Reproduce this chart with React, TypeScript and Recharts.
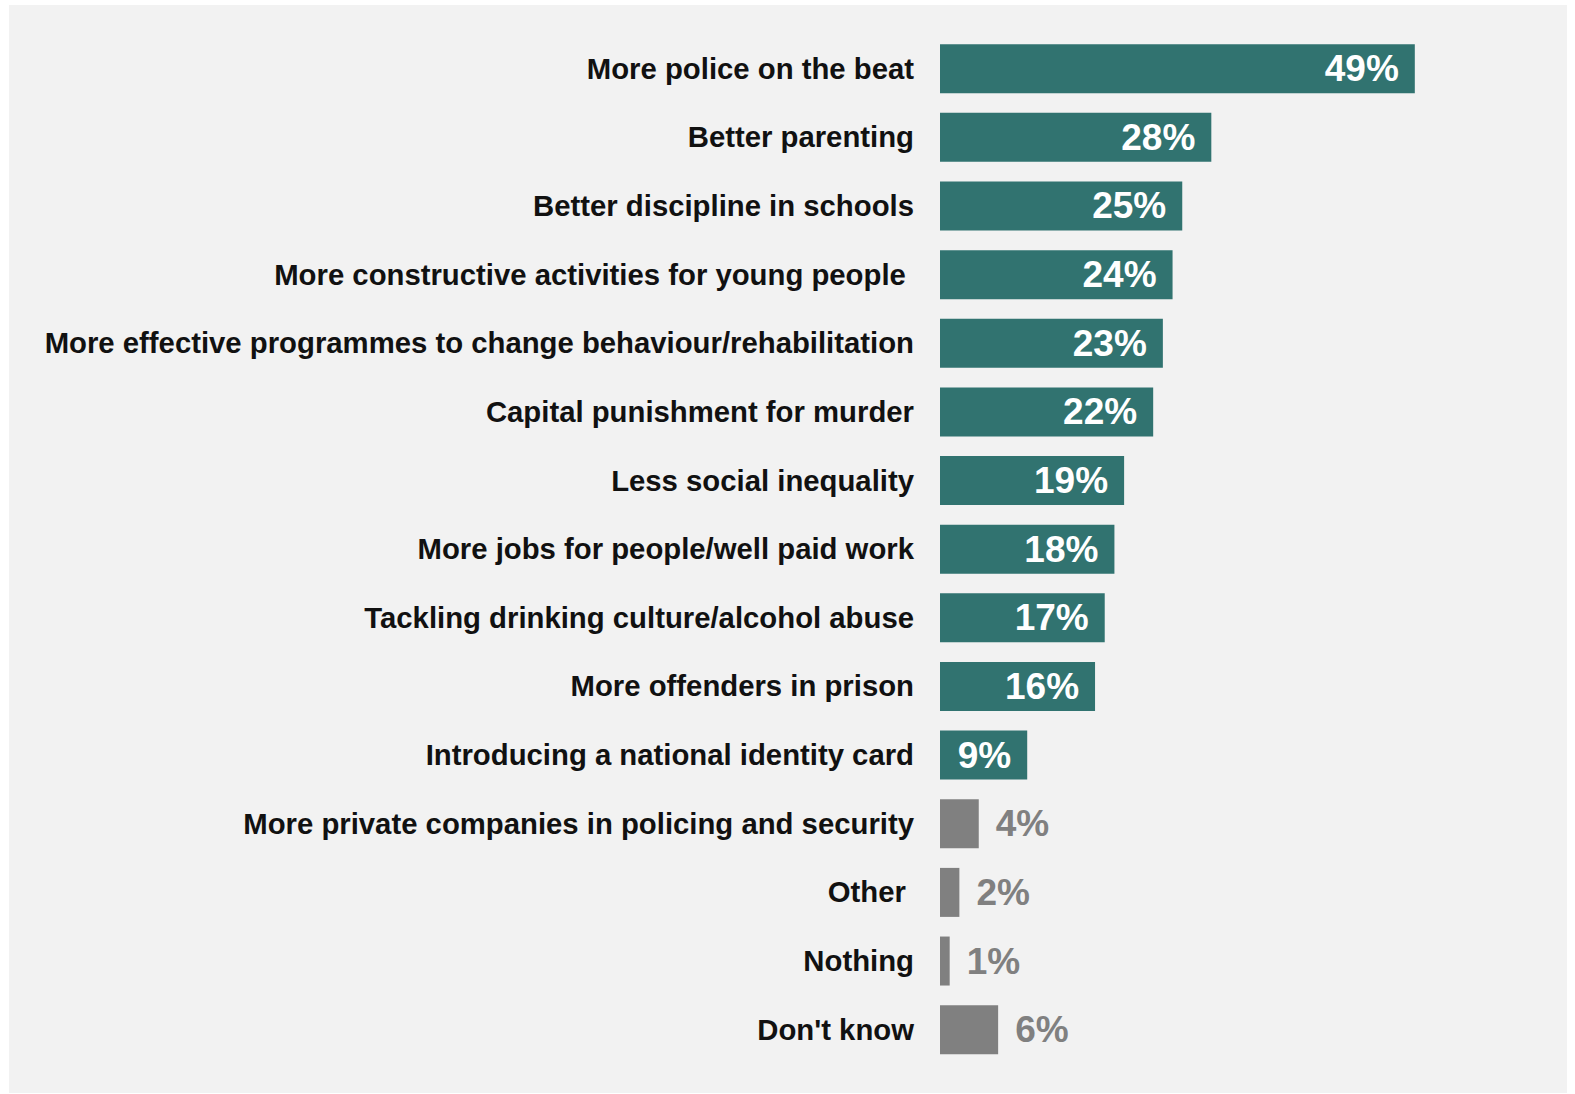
import { BarChart, Bar, XAxis, YAxis, Cell, LabelList } from 'recharts';

const categories = [
  'More police on the beat',
  'Better parenting',
  'Better discipline in schools',
  'More constructive activities for young people ',
  'More effective programmes to change behaviour/rehabilitation',
  'Capital punishment for murder',
  'Less social inequality',
  'More jobs for people/well paid work',
  'Tackling drinking culture/alcohol abuse',
  'More offenders in prison',
  'Introducing a national identity card',
  'More private companies in policing and security',
  'Other ',
  'Nothing',
  "Don't know",
];

const shares = [49, 28, 25, 24, 23, 22, 19, 18, 17, 16, 9, 4, 2, 1, 6];

// answers shown in grey rather than teal
const greyAnswers = ['More private companies in policing and security', 'Other ', 'Nothing', "Don't know"];

const TEAL = '#317370';
const GREY = '#808080';
const FONT = '"Liberation Sans", Arial, sans-serif';

const data = categories.map((name, i) => ({ name, value: shares[i] }));

function CategoryTick(props: any) {
  const { x, y, payload } = props;
  return (
    <text
      x={x}
      y={y - 0.5}
      textAnchor="end"
      dominantBaseline="central"
      fontFamily={FONT}
      fontWeight="bold"
      fontSize={29.3}
      fill="#111"
      style={{ whiteSpace: 'pre' }}
    >
      {payload.value}
    </text>
  );
}

function ValueLabel(props: any) {
  const { x, y, width, height, value, index } = props;
  const grey = greyAnswers.includes(categories[index]);
  const cy = y + height / 2;
  if (grey) {
    return (
      <text x={x + width + 17} y={cy} textAnchor="start" dominantBaseline="central"
        fontFamily={FONT} fontWeight="bold" fontSize={37} fill={GREY}>
        {value}%
      </text>
    );
  }
  return (
    <text x={x + width - 16} y={cy} textAnchor="end" dominantBaseline="central"
      fontFamily={FONT} fontWeight="bold" fontSize={37} fill="#fff">
      {value}%
    </text>
  );
}

export default function App() {
  return (
    <div style={{ position: 'absolute', left: 9, top: 5, width: 1558, height: 1088, background: '#f2f2f2' }}>
      <BarChart
        width={1558}
        height={1088}
        data={data}
        layout="vertical"
        margin={{ top: 29.4, right: 45.6, bottom: 29, left: 0 }}
        barCategoryGap="14.3%"
      >
        <XAxis type="number" domain={[0, 60]} hide />
        <YAxis
          type="category"
          dataKey="name"
          width={931}
          axisLine={false}
          tickLine={false}
          tickSize={0}
          tickMargin={26}
          interval={0}
          tick={<CategoryTick />}
        />
        <Bar dataKey="value" isAnimationActive={false}>
          {data.map((d, i) => (
            <Cell key={`c-${i}`} fill={greyAnswers.includes(d.name) ? GREY : TEAL} />
          ))}
          <LabelList dataKey="value" content={<ValueLabel />} />
        </Bar>
      </BarChart>
    </div>
  );
}
